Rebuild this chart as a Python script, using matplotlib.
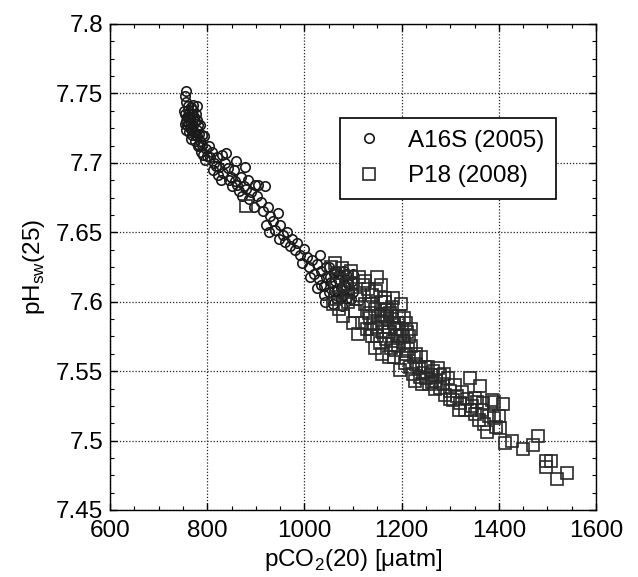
import matplotlib
matplotlib.use('Agg')
import matplotlib.pyplot as plt
from matplotlib.ticker import MultipleLocator, FormatStrFormatter, FuncFormatter

plt.rcParams['font.family'] = ['Liberation Sans', 'DejaVu Sans']
plt.rcParams['mathtext.fontset'] = 'custom'
plt.rcParams['mathtext.rm'] = 'Liberation Sans'

# A16S (2005) cruise, circles
a16s_pco2 = [752, 755, 758, 760, 757, 762, 765, 768, 764, 770, 772, 775, 768, 778, 780, 774,
             783, 786, 790, 782, 760, 766, 754, 771, 776, 785, 788, 793, 779, 763, 756, 797,
             800, 803, 795, 756, 754, 771, 757, 778,
             758, 761, 767, 773, 769, 776, 781, 784, 789, 762, 766, 792, 806, 818, 833, 845,
             862, 875, 887,
             810, 815, 812, 820, 825, 830, 838, 822, 828, 836, 843, 848, 855, 859, 877, 857,
             851, 870, 884, 865, 872, 880, 890, 898, 905, 902, 896, 910, 918, 915, 925, 930,
             922, 935, 940, 928, 945, 950, 955, 948, 960, 965, 970, 975, 980, 985, 990, 995,
             1000, 1005, 1010, 1015, 1020, 1025, 1032, 1030, 1035, 1040, 1045, 1050, 1055, 1060,
             1065, 1070, 1075, 1080, 1085, 1090, 1095, 1100, 1065, 1050, 1042, 1058, 1078, 1092,
             1100, 1072, 1062, 1040, 1025,
             1045, 1052, 1068, 1083, 1097, 1088, 1075, 1060, 1035, 1082, 1012]
a16s_ph = [7.737, 7.735, 7.733, 7.738, 7.730, 7.728, 7.732, 7.735, 7.725, 7.727, 7.722, 7.730,
           7.720, 7.724, 7.719, 7.716, 7.721, 7.716, 7.713, 7.712, 7.741, 7.740, 7.728, 7.738,
           7.735, 7.727, 7.708, 7.719, 7.731, 7.722, 7.724, 7.710, 7.705, 7.712, 7.702, 7.752,
           7.748, 7.742, 7.744, 7.741,
           7.727, 7.733, 7.729, 7.733, 7.724, 7.720, 7.727, 7.713, 7.720, 7.736, 7.717, 7.706,
           7.704, 7.698, 7.693, 7.688, 7.684, 7.683, 7.674,
           7.708, 7.700, 7.695, 7.704, 7.697, 7.706, 7.707, 7.691, 7.688, 7.700, 7.696, 7.690,
           7.695, 7.701, 7.697, 7.687, 7.683, 7.690, 7.688, 7.680, 7.676, 7.681, 7.679, 7.684,
           7.684, 7.676, 7.668, 7.672, 7.683, 7.665, 7.668, 7.662, 7.655, 7.658, 7.652, 7.650,
           7.664, 7.655, 7.648, 7.645, 7.643, 7.650, 7.640, 7.645, 7.637, 7.642, 7.634, 7.628,
           7.638, 7.632, 7.625, 7.630, 7.620, 7.627, 7.634, 7.616, 7.622, 7.611, 7.618, 7.607,
           7.614, 7.608, 7.603, 7.616, 7.610, 7.605, 7.620, 7.613, 7.602, 7.620, 7.622, 7.625,
           7.600, 7.598, 7.597, 7.608, 7.607, 7.620, 7.615, 7.605, 7.610,
           7.625, 7.618, 7.608, 7.612, 7.615, 7.603, 7.603, 7.620, 7.612, 7.622, 7.618]

# P18 (2008) cruise, squares
p18_pco2 = [880, 1055, 1062, 1070, 1078, 1088, 1095, 1085, 1066, 1058, 1062, 1079, 1072, 1090,
            1100, 1110, 1105, 1115, 1120, 1131, 1140, 1150, 1158, 1165, 1165, 1160, 1145, 1135,
            1125, 1128, 1140, 1150, 1155, 1170, 1175, 1180, 1185, 1190, 1178, 1168, 1195, 1200,
            1205, 1210, 1198, 1210, 1215, 1220, 1185, 1160, 1145, 1196, 1225, 1230, 1223, 1235,
            1240, 1245, 1250, 1255, 1260, 1265, 1270, 1278, 1280, 1285, 1290, 1295, 1300, 1305,
            1310, 1315, 1320, 1325, 1330, 1340, 1335, 1345, 1350, 1361, 1355, 1360, 1365, 1370,
            1375, 1380, 1387, 1390, 1395, 1400, 1408, 1391, 1402,
            1152, 1162, 1172, 1182, 1192, 1202, 1212, 1188, 1176, 1166, 1142, 1132, 1118, 1208,
            1218, 1228, 1238, 1248, 1256, 1268, 1275, 1090, 1098, 1108, 1112, 1125, 1138, 1148,
            1158, 1170, 1182,
            1180, 1192, 1204, 1214, 1186, 1174, 1196, 1220, 1163, 1150, 1137, 1230, 1243, 1262,
            1288, 1300, 1318, 1342, 1352, 1368,
            1412, 1428, 1449, 1470, 1480, 1498, 1508, 1498, 1519, 1541]
p18_ph = [7.669, 7.625, 7.628, 7.621, 7.624, 7.618, 7.622, 7.612, 7.612, 7.598, 7.602, 7.590,
          7.595, 7.600, 7.585, 7.577, 7.593, 7.605, 7.612, 7.609, 7.605, 7.618, 7.612, 7.603,
          7.594, 7.585, 7.595, 7.588, 7.598, 7.580, 7.575, 7.582, 7.570, 7.588, 7.578, 7.596,
          7.585, 7.575, 7.567, 7.573, 7.590, 7.580, 7.570, 7.585, 7.598, 7.562, 7.575, 7.568,
          7.560, 7.562, 7.567, 7.551, 7.560, 7.555, 7.548, 7.552, 7.560, 7.549, 7.545, 7.553,
          7.547, 7.550, 7.543, 7.547, 7.538, 7.541, 7.533, 7.545, 7.536, 7.529, 7.540, 7.532,
          7.527, 7.535, 7.522, 7.545, 7.530, 7.525, 7.519, 7.539, 7.528, 7.515, 7.522, 7.512,
          7.506, 7.518, 7.529, 7.516, 7.510, 7.518, 7.526, 7.528, 7.509,
          7.590, 7.578, 7.582, 7.572, 7.568, 7.575, 7.578, 7.580, 7.592, 7.600, 7.585, 7.592,
          7.585, 7.556, 7.553, 7.543, 7.546, 7.553, 7.541, 7.537, 7.552, 7.607, 7.613, 7.602,
          7.618, 7.615, 7.598, 7.608, 7.600, 7.595, 7.603,
          7.590, 7.585, 7.588, 7.566, 7.565, 7.560, 7.575, 7.580, 7.590, 7.575, 7.580, 7.562,
          7.541, 7.542, 7.548, 7.530, 7.522, 7.522, 7.531, 7.527,
          7.498, 7.500, 7.494, 7.497, 7.503, 7.485, 7.485, 7.481, 7.472, 7.477]

fig = plt.figure(figsize=(6.38, 5.77), dpi=100)
ax = fig.add_axes([110 / 638, 67 / 577, 486 / 638, 486 / 577])

ax.plot(a16s_pco2, a16s_ph, linestyle='none', marker='o', markersize=6.8,
        markerfacecolor='none', markeredgecolor='#1a1a1a', markeredgewidth=1.2,
        label='A16S (2005)', zorder=3)
ax.plot(p18_pco2, p18_ph, linestyle='none', marker='s', markersize=9,
        markerfacecolor='none', markeredgecolor='#2a2a2a', markeredgewidth=1.2,
        label='P18 (2008)', zorder=3)

ax.set_xlim(600, 1600)
ax.set_ylim(7.45, 7.8)
ax.xaxis.set_major_locator(MultipleLocator(200))
ax.xaxis.set_minor_locator(MultipleLocator(50))
ax.yaxis.set_major_locator(MultipleLocator(0.05))
ax.yaxis.set_minor_locator(MultipleLocator(0.0125))
ax.xaxis.set_major_formatter(FormatStrFormatter('%d'))
ax.yaxis.set_major_formatter(FuncFormatter(lambda v, p: ('%.2f' % v).rstrip('0')))

ax.tick_params(which='both', direction='in', top=True, right=True, labelsize=17.5, colors='black')
ax.tick_params(which='major', length=5, width=1)
ax.tick_params(which='minor', length=3, width=0.8)
ax.tick_params(axis='x', pad=7)
ax.tick_params(axis='y', pad=5)
for s in ax.spines.values():
    s.set_linewidth(1.0)

ax.grid(True, which='major', color='#222222', linestyle=(0, (1, 1.5)), linewidth=0.9)
ax.set_axisbelow(True)

ax.set_xlabel(r'pCO$_\mathregular{2}$(20) [μatm]', fontsize=17.5, labelpad=4)
ax.set_ylabel(r'pH$_\mathregular{sw}$(25)', fontsize=17.5, labelpad=6)

leg = ax.legend(loc='upper left', bbox_to_anchor=(0.473, 0.807), fontsize=17.5,
                frameon=True, fancybox=False, framealpha=1, edgecolor='black',
                borderpad=0.5, labelspacing=0.55, handlelength=1.4, handletextpad=0.9,
                borderaxespad=0)
leg.get_frame().set_linewidth(1.2)

plt.savefig('out.png', dpi=100)
